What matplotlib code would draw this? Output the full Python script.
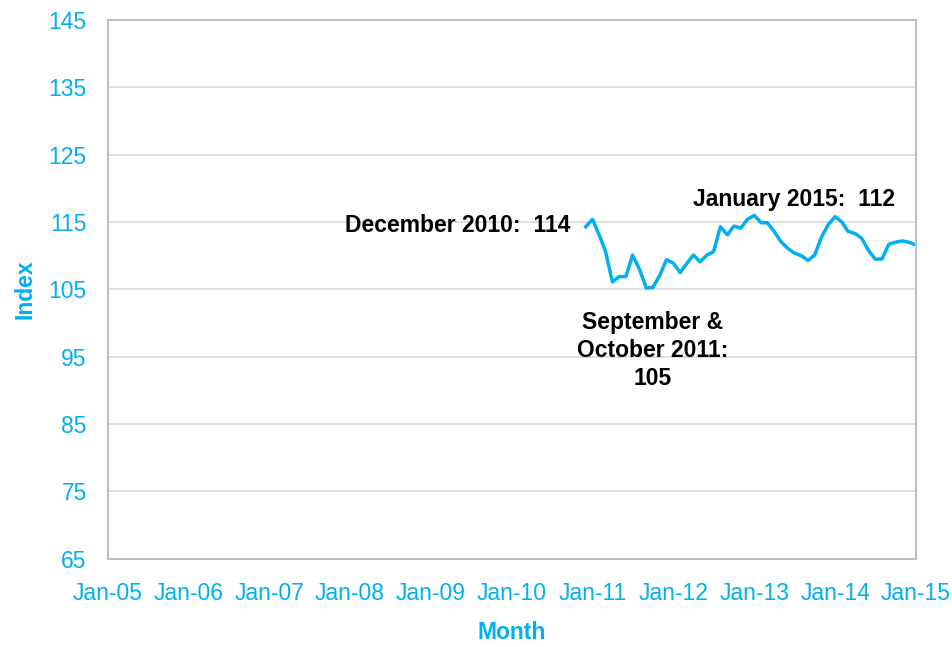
import matplotlib
matplotlib.use("Agg")
import matplotlib.pyplot as plt
import matplotlib.dates as mdates
import pandas as pd
import datetime as dt

plt.rcParams['font.family'] = ['Liberation Sans', 'DejaVu Sans']

months = pd.date_range("2010-12-01", "2015-01-01", freq="MS")
index_values = [
    114.3, 115.4, 113.0, 110.6, 106.1, 106.9, 106.9, 110.1, 108.0, 105.2, 105.3, 107.1,
    109.4, 108.9, 107.5, 108.8, 110.1, 109.1, 110.1, 110.6, 114.3, 113.1, 114.4, 114.1,
    115.4, 116.0, 114.9, 114.9, 113.6, 112.1, 111.1, 110.4, 110.0, 109.3, 110.1, 112.8,
    114.6, 115.8, 115.0, 113.6, 113.3, 112.6, 110.8, 109.5, 109.5, 111.7, 112.0, 112.2,
    112.0, 111.6,
]
y_ticks = [65, 75, 85, 95, 105, 115, 125, 135, 145]
x_tick_years = list(range(2005, 2016))
x_tick_labels = ["Jan-%02d" % (y % 100) for y in x_tick_years]

annotations = [
    ("December 2010:  114", dt.datetime(2010, 9, 25), 114.55, "right"),
    ("January 2015:  112", dt.datetime(2013, 7, 1), 118.3, "center"),
    ("September &\nOctober 2011:\n105", dt.datetime(2011, 10, 1), 95.9, "center"),
]

blue = "#00B0F0"
fig = plt.figure(figsize=(9.53, 6.47), dpi=100)
ax = fig.add_axes([0.113, 0.1365, 0.848, 0.8325])

ax.plot(months, index_values, color=blue, lw=2.5, solid_joinstyle='round')

ax.set_ylim(65, 145)
ax.set_yticks(y_ticks)
ax.set_xlim(dt.datetime(2005, 1, 1), dt.datetime(2015, 1, 1))
ax.set_xticks([dt.datetime(y, 1, 1) for y in x_tick_years])
ax.set_xticklabels(x_tick_labels)

ax.grid(axis='y', color='#D9D9D9', lw=1.2)
ax.set_axisbelow(True)
for s in ax.spines.values():
    s.set_color('#BFBFBF')
    s.set_linewidth(1.5)
ax.tick_params(axis='both', length=0, labelsize=16.5, labelcolor=blue)
ax.tick_params(axis='y', pad=15)
ax.tick_params(axis='x', pad=16.5)

ax.set_ylabel("Index", fontsize=16.5, fontweight='bold', color=blue, labelpad=9)
ax.set_xlabel("Month", fontsize=16.5, fontweight='bold', color=blue, labelpad=12)

for text, x, y, ha in annotations:
    ax.text(x, y, text, ha=ha, va='center', fontsize=16.5, fontweight='bold',
            color='black', linespacing=1.27)

fig.savefig("out.png", dpi=100)
